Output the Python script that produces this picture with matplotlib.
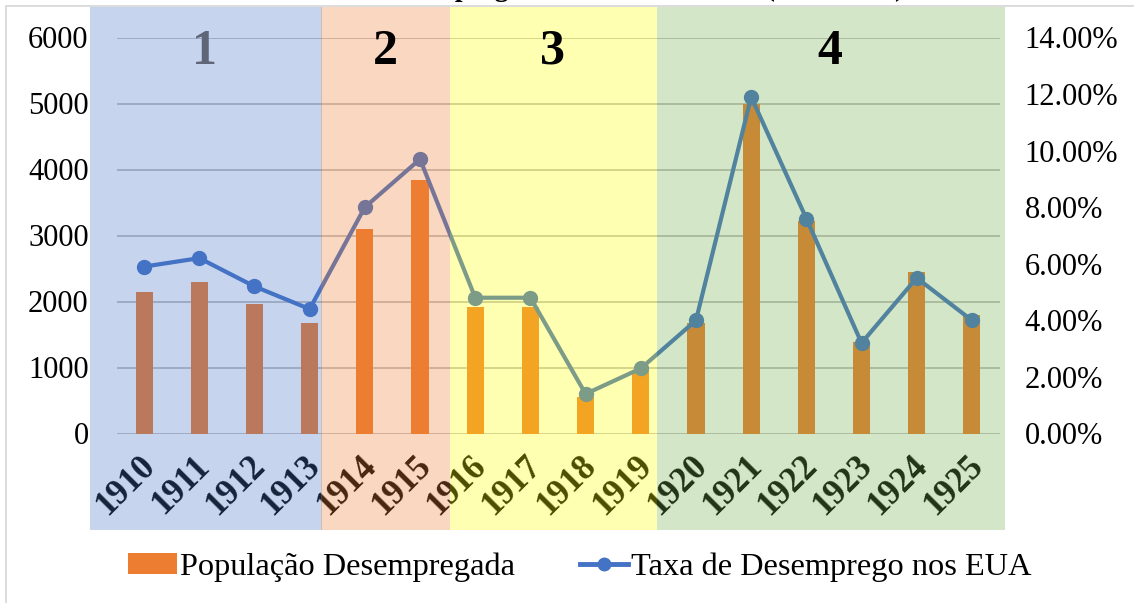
import matplotlib
matplotlib.use('Agg')
import matplotlib.pyplot as plt
from matplotlib.patches import Rectangle, Patch
from matplotlib.lines import Line2D
from matplotlib.transforms import ScaledTranslation

# dados
anos = ['1910', '1911', '1912', '1913', '1914', '1915', '1916', '1917',
        '1918', '1919', '1920', '1921', '1922', '1923', '1924', '1925']
desempregados = [2150, 2290, 1960, 1680, 3100, 3840, 1910, 1910,
                 550, 960, 1670, 5000, 3220, 1380, 2440, 1800]
taxa = [5.9, 6.2, 5.2, 4.4, 8.0, 9.7, 4.8, 4.8,
        1.4, 2.3, 4.0, 11.9, 7.6, 3.2, 5.5, 4.0]
fases = ['1', '2', '3', '4']
titulo = 'Gráfico 1: Desemprego nos Estados Unidos (1910-1925)'

W, H = 1134, 603
plt.rcParams['font.family'] = ['Liberation Serif', 'DejaVu Serif']

fig = plt.figure(figsize=(W / 100, H / 100), dpi=100)

# area do grafico em pixels
x0, x1 = 116.5, 999.5
y0, y1 = 433.5, 37.5
ax = fig.add_axes([x0 / W, 1 - y0 / H, (x1 - x0) / W, (y0 - y1) / H])

pos = range(len(anos))
ax.bar(pos, desempregados, width=0.31, color='#ED7D31', zorder=2)
ax.set_xlim(-0.5, len(anos) - 0.5)
ax.set_ylim(0, 6000)
ax.set_yticks(range(0, 6001, 1000))
ax.grid(axis='y', color='#BFBFBF', linewidth=1.3, zorder=0)
ax.set_axisbelow(True)
for s in ax.spines.values():
    s.set_visible(False)
ax.tick_params(axis='y', length=0, pad=20, labelsize=22)
ax.tick_params(axis='x', length=0, pad=20)
ax.set_xticks(list(pos))
ax.set_xticklabels(anos, rotation=45, ha='right', va='center',
                   rotation_mode='anchor', fontsize=25, fontweight='bold')
shift = ScaledTranslation(6 / 100, 0, fig.dpi_scale_trans)
for lbl in ax.get_xticklabels():
    lbl.set_transform(lbl.get_transform() + shift)

ax2 = ax.twinx()
ax2.plot(pos, taxa, color='#4472C4', linewidth=3, marker='o', markersize=10)
ax2.set_ylim(0, 14)
ax2.set_yticks(range(0, 15, 2))
ax2.set_yticklabels(['%.2f%%' % v for v in range(0, 15, 2)])
for s in ax2.spines.values():
    s.set_visible(False)
ax2.tick_params(axis='y', length=0, pad=18, labelsize=22)

# titulo quase todo fora da figura
fig.text(0.508, 1 + 4 / H, titulo, ha='center', va='baseline',
         fontsize=20, fontweight='bold', zorder=2)

# borda do grafico
fig.patches.append(Rectangle((6 / W, -0.2), 1.2, 1.2 - 6 / H, transform=fig.transFigure,
                             facecolor='none', edgecolor='#D9D9D9', linewidth=1.3, zorder=1))

# faixas coloridas por fase
caixas = [(90, 322, '#4472C4'), (321, 450, '#ED7D31'),
          (450, 657, '#FFFF00'), (657, 1005, '#70AD47')]
for a, b, c in caixas:
    fig.patches.append(Rectangle((a / W, 1 - 530 / H), (b - a) / W, (530 - 7) / H,
                                 transform=fig.transFigure, facecolor=c,
                                 edgecolor='none', alpha=0.3, zorder=3))

num_x = [205, 385, 552, 830]
num_cor = ['#5E6677', 'black', 'black', 'black']
for f, xx, cc in zip(fases, num_x, num_cor):
    fig.text(xx / W, 1 - 52 / H, f, ha='center', va='center', fontsize=36,
             fontweight='bold', color=cc, zorder=5)

handles = [Patch(facecolor='#ED7D31', label='População Desempregada'),
           Line2D([], [], color='#4472C4', linewidth=3.5, marker='o', markersize=9,
                  label='Taxa de Desemprego nos EUA')]
fig.legend(handles=handles, loc='center', bbox_to_anchor=(580 / W, 1 - 567 / H),
           ncol=2, frameon=False, fontsize=23.3, handlelength=1.5, handleheight=0.6,
           handletextpad=0.1, columnspacing=2.0)

fig.savefig('out.png', dpi=100)
